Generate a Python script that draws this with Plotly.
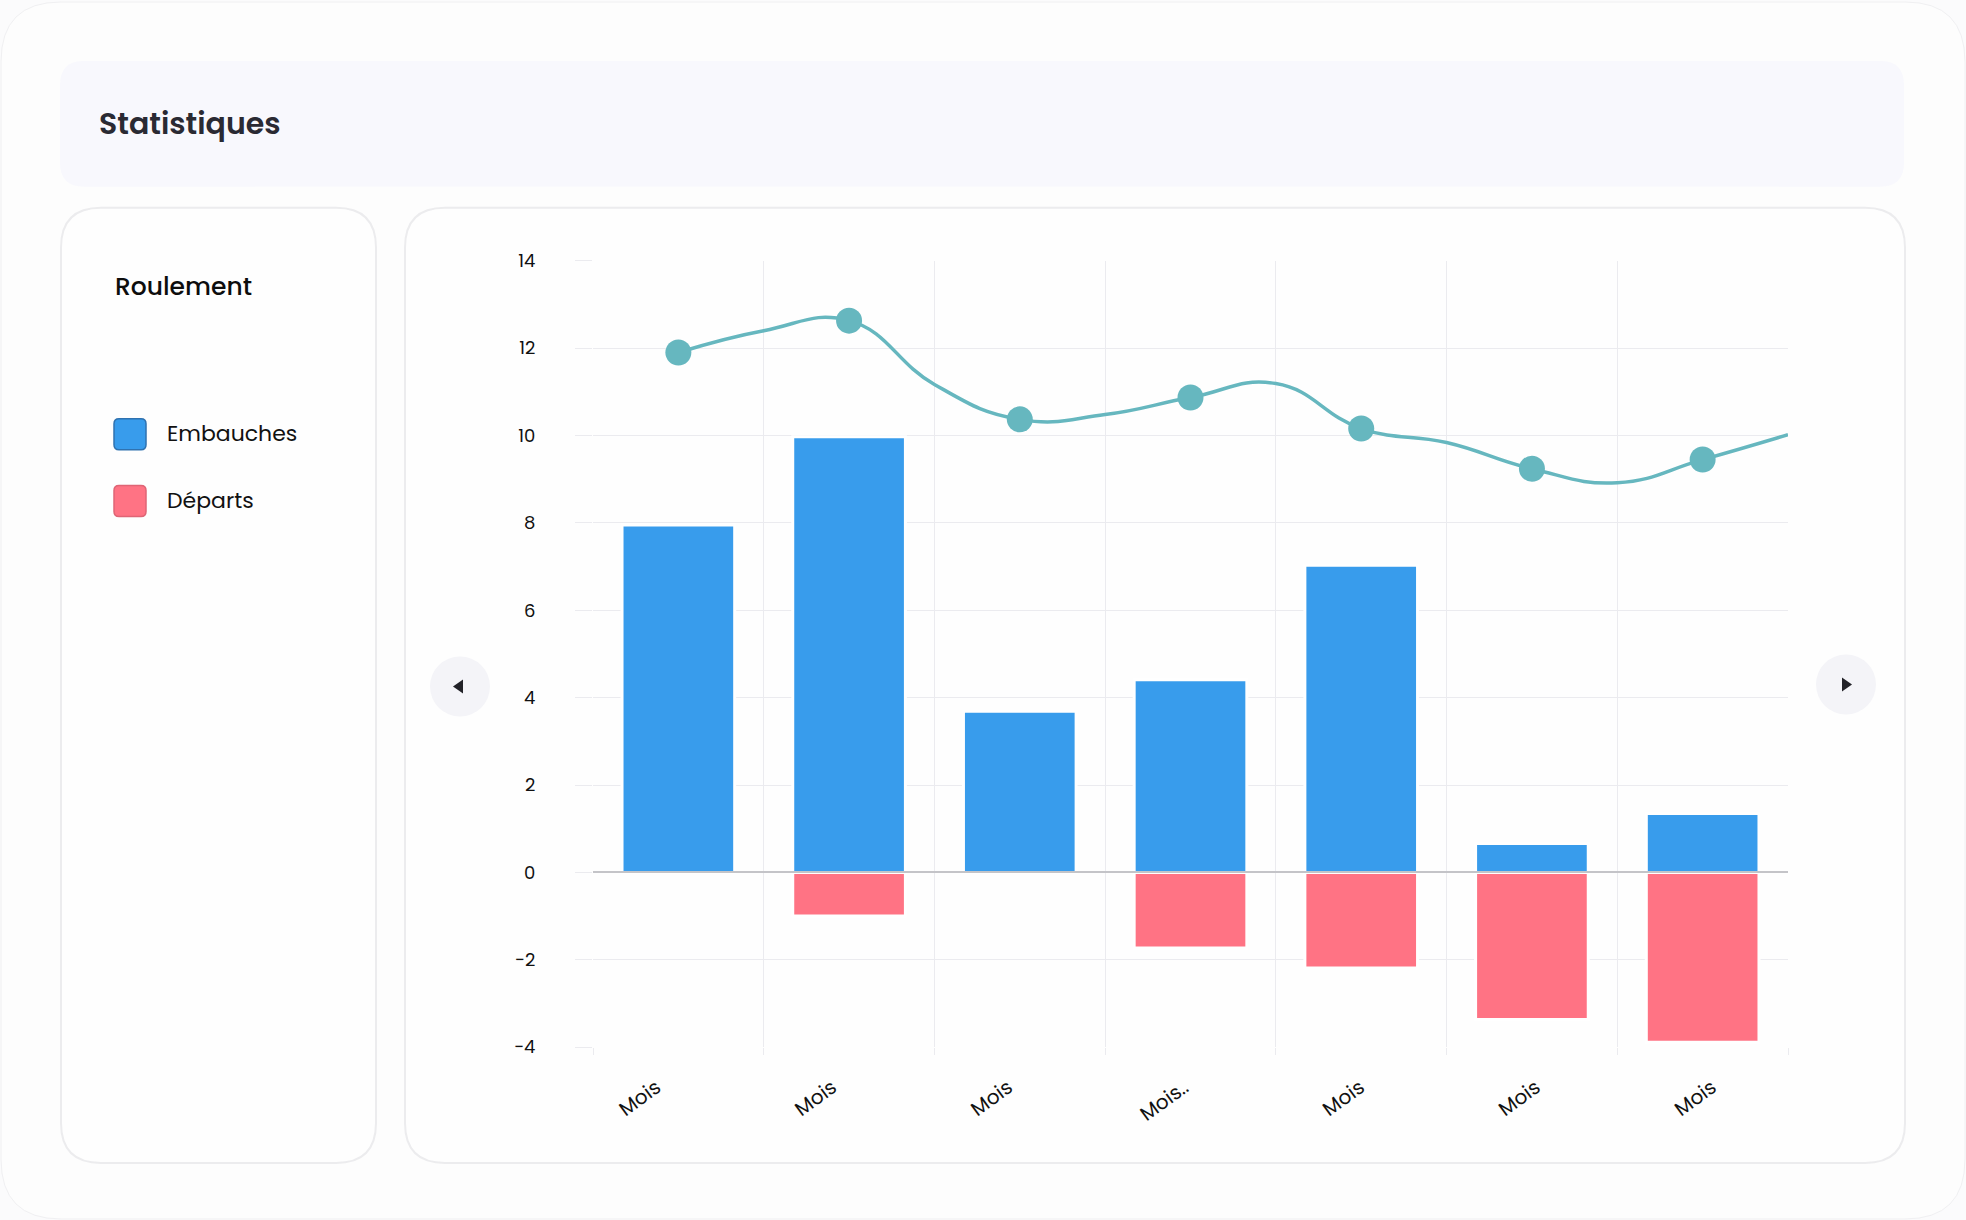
import plotly.graph_objects as go

W, H = 1966, 1220

# ---------------- data ----------------
categories = ["Mois", "Mois", "Mois", "Mois..", "Mois", "Mois", "Mois"]
embauches = [7.95, 9.97, 3.69, 4.41, 7.03, 0.66, 1.35]
departs = [None, -1.0, None, -1.73, -2.19, -3.37, -3.89]
# trend line: value at each month centre and at each month's right boundary
tendance_centres = [11.9, 12.63, 10.37, 10.87, 10.16, 9.24, 9.45]
tendance_limites = [12.4, 11.17, 10.48, 11.19, 9.84, 8.92, 10.02]
y_ticks = [-4, -2, 0, 2, 4, 6, 8, 10, 12, 14]

# ---------------- styling ----------------
FONT = "Poppins, Inter, Lato, sans-serif"
BLUE = "#389CEC"
RED = "#FF7384"
TEAL = "#66B7BF"
GRID = "#ebebef"

# vertical placement calibrated to the rendered page
V_OFF, V_H = 12, 1196


def X(px):
    return px / W


def Y(py):
    return 1 - (py - V_OFF) / V_H


def rrect(x0, y0, x1, y1, r):
    return (
        f"M {X(x0 + r)},{Y(y0)} L {X(x1 - r)},{Y(y0)} "
        f"Q {X(x1)},{Y(y0)} {X(x1)},{Y(y0 + r)} L {X(x1)},{Y(y1 - r)} "
        f"Q {X(x1)},{Y(y1)} {X(x1 - r)},{Y(y1)} L {X(x0 + r)},{Y(y1)} "
        f"Q {X(x0)},{Y(y1)} {X(x0)},{Y(y1 - r)} L {X(x0)},{Y(y0 + r)} "
        f"Q {X(x0)},{Y(y0)} {X(x0 + r)},{Y(y0)} Z"
    )


idx = list(range(len(categories)))
line_x, line_y = [], []
for i in idx:
    line_x += [i, i + 0.5]
    line_y += [tendance_centres[i], tendance_limites[i]]

fig = go.Figure()
fig.add_trace(go.Bar(x=idx, y=embauches, name="Embauches", width=0.66,
                     marker=dict(color=BLUE, line=dict(color="#ffffff", width=3))))
fig.add_trace(go.Bar(x=idx, y=departs, name="Départs", width=0.66,
                     marker=dict(color=RED, line=dict(color="#ffffff", width=3))))
fig.add_trace(go.Scatter(x=line_x, y=line_y, mode="lines",
                         line=dict(color=TEAL, width=3.5, shape="spline", smoothing=1.3),
                         hoverinfo="skip", showlegend=False))
fig.add_trace(go.Scatter(x=idx, y=tendance_centres, mode="markers",
                         marker=dict(color=TEAL, size=26), showlegend=False))
# label axis carrier (invisible)
fig.add_trace(go.Scatter(x=idx, y=embauches, xaxis="x2", mode="none",
                         hoverinfo="skip", showlegend=False))

shapes = [
    dict(type="path", path=rrect(1, 1, 1965, 1219, 60), xref="paper", yref="paper",
         line=dict(color="#f0f0f2", width=1), fillcolor="#fdfdfd", layer="below"),
    dict(type="path", path=rrect(60, 60, 1904, 186, 24), xref="paper", yref="paper",
         line=dict(width=0), fillcolor="#f8f8fd", layer="below"),
    dict(type="path", path=rrect(61, 207, 376, 1163, 40), xref="paper", yref="paper",
         line=dict(color="#ececee", width=2), fillcolor="#fefefe", layer="below"),
    dict(type="path", path=rrect(405, 207, 1905, 1163, 40), xref="paper", yref="paper",
         line=dict(color="#ececee", width=2), fillcolor="#fefefe", layer="below"),
    dict(type="path", path=rrect(114, 418, 146, 449, 5), xref="paper", yref="paper",
         line=dict(color="#2f72b0", width=1.5), fillcolor=BLUE),
    dict(type="path", path=rrect(114, 485, 146, 516, 5), xref="paper", yref="paper",
         line=dict(color="#df6575", width=1.5), fillcolor=RED),
    dict(type="circle", x0=X(430), x1=X(490), y0=Y(716), y1=Y(656), xref="paper", yref="paper",
         line=dict(width=0), fillcolor="#f4f4f8"),
    dict(type="circle", x0=X(1816), x1=X(1876), y0=Y(714), y1=Y(654), xref="paper", yref="paper",
         line=dict(width=0), fillcolor="#f4f4f8"),
    dict(type="path", path=f"M {X(453)},{Y(686)} L {X(463)},{Y(679)} L {X(463)},{Y(693)} Z",
         xref="paper", yref="paper", line=dict(width=0), fillcolor="#222228"),
    dict(type="path", path=f"M {X(1842)},{Y(677)} L {X(1852)},{Y(684)} L {X(1842)},{Y(691)} Z",
         xref="paper", yref="paper", line=dict(width=0), fillcolor="#222228"),
]

annotations = [
    dict(text="Statistiques", x=X(97), y=Y(123), xref="paper", yref="paper",
         xanchor="left", yanchor="middle", showarrow=False,
         font=dict(family=FONT, size=30, color="#2a2a33", weight=600)),
    dict(text="Roulement", x=X(113), y=Y(286), xref="paper", yref="paper",
         xanchor="left", yanchor="middle", showarrow=False,
         font=dict(family=FONT, size=25, color="#0d0d0d", weight=500)),
    dict(text="Embauches", x=X(165), y=Y(433), xref="paper", yref="paper",
         xanchor="left", yanchor="middle", showarrow=False,
         font=dict(family=FONT, size=22, color="#111111")),
    dict(text="Départs", x=X(165), y=Y(500), xref="paper", yref="paper",
         xanchor="left", yanchor="middle", showarrow=False,
         font=dict(family=FONT, size=22, color="#111111")),
]

n = len(categories)
fig.update_layout(
    width=W, height=H,
    margin=dict(l=0, r=0, t=0, b=0),
    paper_bgcolor="#fbfbfc",
    plot_bgcolor="rgba(0,0,0,0)",
    barmode="relative",
    showlegend=False,
    shapes=shapes,
    annotations=annotations,
    font=dict(family=FONT, color="#111111"),
    xaxis=dict(
        domain=[X(593), X(1788)], range=[-0.5, n - 0.5],
        tickmode="array", tickvals=idx, showticklabels=False,
        showgrid=False, zeroline=False, showline=False, ticks="",
        minor=dict(tickmode="array", tickvals=[i - 0.5 for i in range(n + 1)],
                   showgrid=True, gridcolor=GRID, gridwidth=1,
                   ticks="outside", ticklen=7, tickcolor=GRID),
        fixedrange=True,
    ),
    xaxis2=dict(
        overlaying="x", anchor="y", side="bottom",
        domain=[X(593), X(1788)], range=[-0.4847, 6.308],
        tickmode="array", tickvals=idx, ticktext=categories, tickangle=-36,
        showgrid=False, zeroline=False, showline=False, ticks="",
        tickfont=dict(size=20, color="#111111"),
        ticklabelstandoff=24, ticklabelshift=-22,
        fixedrange=True,
    ),
    yaxis=dict(
        domain=[Y(1047), Y(260)], range=[-4, 14],
        tickmode="array", tickvals=y_ticks,
        showgrid=True, gridcolor=GRID, gridwidth=1,
        zeroline=True, zerolinecolor="#c4c4c8", zerolinewidth=2,
        showline=False, ticks="outside", ticklen=17, tickcolor=GRID,
        tickfont=dict(size=18, color="#111111"),
        ticklabelstandoff=36,
        fixedrange=True,
    ),
)

try:
    fig.update_yaxes(zerolinelayer="above traces")
except Exception:
    pass

fig.write_html("out.html")
